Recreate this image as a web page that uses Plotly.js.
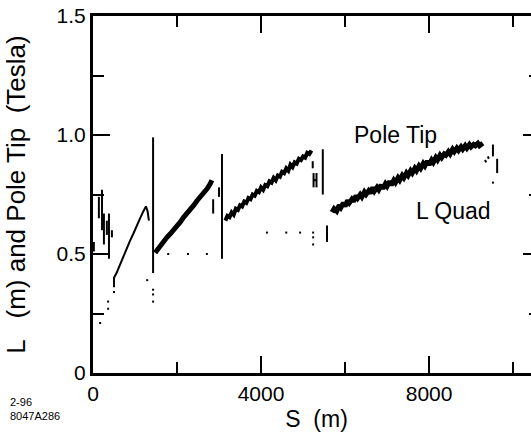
<!DOCTYPE html>
<html>
<head>
<meta charset="utf-8">
<script src="https://cdn.plot.ly/plotly-3.0.1.min.js"></script>
<style>
  html, body { margin: 0; padding: 0; overflow: hidden; background: #fff; }
  #chart { width: 545px; height: 435px; }
</style>
</head>
<body>
<div id="chart"></div>
<script>
// ---- Pole Tip (Tesla) : short vertical excursions near the start ----
const clusterX = [20, 20, null, 140, 140, null, 215, 215, null, 260, 260, null, 330, 330, null, 380, 380, null, 450, 450];
const clusterY = [0.51, 0.55, null, 0.74, 0.65, null, 0.77, 0.60, null, 0.67, 0.54, null, 0.64, 0.58, null, 0.67, 0.48, null, 0.60, 0.57];

// ---- Pole Tip ramp 1 ----
const ramp1X = [500, 500, 560, 640, 720, 800, 880, 960, 1040, 1120, 1200, 1260, 1300, 1330];
const ramp1Y = [0.36, 0.40, 0.42, 0.455, 0.49, 0.52, 0.555, 0.585, 0.62, 0.65, 0.68, 0.70, 0.68, 0.64];

// ---- Pole Tip vertical spikes / marks ----
const spikeX = [1430, 1430, null, 2860, 2860, null, 3000, 3000, null, 3070, 3070, null,
                5230, 5230, null, 5250, 5250, null, 5250, 5320, null, 5320, 5320, null, 5470, 5470, null, 5570, 5570, null,
                9330, 9360, null, 9400, 9420, null, 9520, 9520, null, 9620, 9620];
const spikeY = [0.42, 0.99, null, 0.73, 0.67, null, 0.78, 0.74, null, 0.92, 0.48, null,
                0.89, 0.86, null, 0.84, 0.78, null, 0.81, 0.81, null, 0.84, 0.78, null, 0.94, 0.75, null, 0.62, 0.55, null,
                0.895, 0.885, null, 0.91, 0.90, null, 0.96, 0.91, null, 0.90, 0.84];

// ---- Pole Tip ramp 2 ----
const ramp2X = [1480, 1540, 1600, 1680, 1760, 1840, 1920, 2000, 2080, 2160, 2240, 2320, 2400, 2480, 2560, 2640, 2720, 2790, 2830];
const ramp2Y = [0.505, 0.52, 0.535, 0.55, 0.57, 0.585, 0.60, 0.62, 0.635, 0.655, 0.67, 0.69, 0.705, 0.725, 0.74, 0.76, 0.775, 0.795, 0.81];

// ---- Pole Tip ramp 3 ----
const ramp3X = [3150, 3200, 3250, 3300, 3350, 3400, 3450, 3500, 3550, 3600, 3650, 3700, 3750, 3800, 3850, 3900, 3950, 4000,
                4050, 4100, 4150, 4200, 4250, 4300, 4350, 4400, 4450, 4500, 4550, 4600, 4650, 4700, 4750, 4800, 4850,
                4900, 4950, 5000, 5050, 5100, 5150, 5200];
const ramp3Y = [0.64, 0.66, 0.655, 0.675, 0.665, 0.69, 0.685, 0.705, 0.70, 0.72, 0.715, 0.735, 0.73, 0.75, 0.745, 0.765, 0.76, 0.78,
                0.77, 0.79, 0.785, 0.805, 0.80, 0.82, 0.81, 0.83, 0.825, 0.845, 0.84, 0.86, 0.85, 0.875, 0.865, 0.885, 0.88,
                0.90, 0.895, 0.91, 0.905, 0.925, 0.92, 0.935];

// ---- Pole Tip ramp 4 ----
const ramp4X = [5690, 5740, 5800, 5860, 5900, 5960, 6000, 6060, 6100, 6160, 6200, 6260, 6300, 6360, 6400, 6460, 6500, 6560,
                6600, 6660, 6700, 6760, 6800, 6860, 6900, 6960, 7000, 7060, 7100, 7160, 7200, 7260, 7300, 7360, 7400, 7460,
                7500, 7560, 7600, 7660, 7700, 7760, 7800, 7860, 7900, 7960, 8000, 8060, 8100, 8160, 8200, 8260, 8300, 8360,
                8400, 8460, 8500, 8560, 8600, 8660, 8700, 8760, 8800, 8860, 8900, 8960, 9000, 9060, 9100, 9160, 9200, 9280];
const ramp4Y = [0.675, 0.69, 0.68, 0.705, 0.695, 0.715, 0.70, 0.725, 0.715, 0.73, 0.72, 0.745, 0.735, 0.75, 0.74, 0.76, 0.75, 0.765,
                0.755, 0.78, 0.765, 0.78, 0.77, 0.79, 0.775, 0.795, 0.785, 0.805, 0.79, 0.81, 0.80, 0.82, 0.81, 0.83, 0.82, 0.84,
                0.83, 0.85, 0.84, 0.86, 0.85, 0.87, 0.86, 0.88, 0.87, 0.89, 0.875, 0.895, 0.885, 0.905, 0.895, 0.915, 0.905, 0.92,
                0.915, 0.93, 0.92, 0.94, 0.93, 0.945, 0.935, 0.95, 0.94, 0.955, 0.945, 0.96, 0.95, 0.96, 0.955, 0.965, 0.955, 0.965];

// ---- L Quad (m) points ----
const lquadX = [170, 360, 360, 500, 1290, 1430, 1430, 1430, 1790, 2260, 2710, 4140, 4600, 4930, 5240, 5240, 5240, 9520];
const lquadY = [0.21, 0.27, 0.30, 0.34, 0.39, 0.35, 0.33, 0.30, 0.50, 0.50, 0.50, 0.59, 0.59, 0.59, 0.59, 0.57, 0.54, 0.80];

// ---- axis ranges, ticks and labels ----
const xRange = [0, 10640];
const yRange = [0, 1.5];
const xTickVals = [0, 4000, 8000];
const xTickText = ['0', '4000', '8000'];
const xMinorVals = [2000, 6000, 10000];
const yTickVals = [0, 0.5, 1.0, 1.5];
const yTickText = ['0', '0.5', '1.0', '1.5'];
const yMinorVals = [0.25, 0.75, 1.25];

const FONT = 'Liberation Sans, Arial, Helvetica, sans-serif';
const line = (x, y, w) => ({x, y, type: 'scatter', mode: 'lines', connectgaps: false,
  line: {color: '#000', width: w}, showlegend: false, hoverinfo: 'skip'});

const traces = [
  line(clusterX, clusterY, 2),
  line(ramp1X, ramp1Y, 2),
  line(spikeX, spikeY, 2),
  line(ramp2X, ramp2Y, 5),
  line(ramp3X, ramp3Y, 4),
  line(ramp4X, ramp4Y, 5),
  {x: lquadX, y: lquadY, type: 'scatter', mode: 'markers',
   marker: {color: '#000', size: 2, symbol: 'square'}, showlegend: false, hoverinfo: 'skip'}
];

const axisCommon = {
  showline: true, linecolor: '#000', linewidth: 3, mirror: 'ticks',
  ticks: 'inside', ticklen: 17, tickwidth: 2, tickcolor: '#000',
  showgrid: false, zeroline: false, tickmode: 'array',
  tickfont: {family: FONT, size: 21, color: '#000'}
};
const minorCommon = {ticks: 'inside', ticklen: 11, tickwidth: 2, tickcolor: '#000', showgrid: false};

const layout = {
  width: 545, height: 435,
  margin: {l: 93, r: 5, t: 16, b: 62},
  paper_bgcolor: '#fff', plot_bgcolor: '#fff',
  font: {family: FONT, color: '#000'},
  xaxis: Object.assign({}, axisCommon, {
    range: xRange, tickvals: xTickVals, ticktext: xTickText,
    minor: Object.assign({tickvals: xMinorVals}, minorCommon),
    title: {text: 'S  (m)', font: {family: FONT, size: 23, color: '#000'}, standoff: 7}
  }),
  yaxis: Object.assign({}, axisCommon, {
    range: yRange, tickvals: yTickVals, ticktext: yTickText,
    minor: Object.assign({tickvals: yMinorVals}, minorCommon),
    title: {text: 'L   (m) and Pole Tip  (Tesla)', font: {family: FONT, size: 26, color: '#000'}, standoff: 24}
  }),
  annotations: [
    {x: 7190, y: 1.0, xref: 'x', yref: 'y', text: 'Pole Tip', showarrow: false,
     font: {family: FONT, size: 23, color: '#000'}},
    {x: 8570, y: 0.68, xref: 'x', yref: 'y', text: 'L Quad', showarrow: false,
     font: {family: FONT, size: 23, color: '#000'}},
    {x: -0.19, y: -0.06, xref: 'paper', yref: 'paper', xanchor: 'left', yanchor: 'top', align: 'left',
     text: '2-96<br>8047A286', showarrow: false, font: {family: FONT, size: 11, color: '#000'}}
  ]
};

Plotly.newPlot('chart', traces, layout, {displayModeBar: false, staticPlot: true});
</script>
</body>
</html>
